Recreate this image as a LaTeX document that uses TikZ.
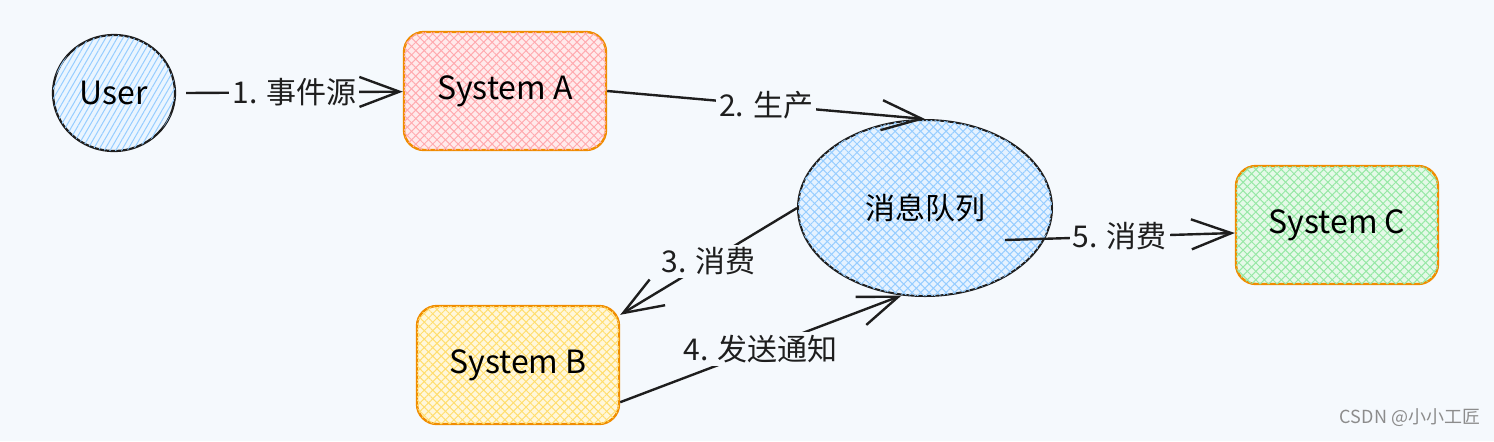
\documentclass[tikz,border=0pt]{standalone}
\usepackage{fontspec}
\setmainfont{Noto Sans CJK SC}
\usetikzlibrary{arrows.meta,patterns.meta,shapes.geometric}
\definecolor{dBg}{RGB}{245,249,253}
\definecolor{dInk}{RGB}{30,30,30}
\definecolor{dOrange}{RGB}{240,140,0}
\definecolor{hBlue}{RGB}{150,205,255}
\definecolor{hPink}{RGB}{255,170,175}
\definecolor{hYellow}{RGB}{255,222,110}
\definecolor{hGreen}{RGB}{150,232,165}
\tikzset{
  xhatch/.style={preaction={fill=#1!25},
    postaction={pattern={Lines[angle=45,distance=3pt,line width=0.5pt]}, pattern color=#1},
    postaction={pattern={Lines[angle=-45,distance=3pt,line width=0.5pt]}, pattern color=#1}},
  shatch/.style={preaction={fill=#1!20},
    postaction={pattern={Lines[angle=60,distance=2.5pt,line width=0.5pt]}, pattern color=#1}},
  sys/.style={rectangle, rounded corners=10pt, draw=dOrange, line width=1.2pt,
              minimum width=101pt, minimum height=59pt, font=\fontsize{16}{18}\selectfont},
  actor/.style={ellipse, draw=dInk, line width=1.1pt, minimum width=61pt,
                minimum height=58pt, font=\fontsize{16}{18}\selectfont},
  queue/.style={ellipse, draw=dInk, line width=1pt, minimum width=127pt,
                minimum height=88pt, font=\fontsize{15}{18}\selectfont},
  flow/.style={-{Straight Barb[length=20pt,width=15pt]}, draw=dInk, line width=1.2pt},
  lbl/.style={fill=dBg, inner sep=1.5pt, font=\fontsize{15}{18}\selectfont, text=dInk},
}

\begin{document}
\begin{tikzpicture}[x=0.5pt, y=-0.5pt]
  \fill[dBg] (0,0) rectangle (1494,441);
  \useasboundingbox (0,0) rectangle (1494,441);

  \node[actor, shatch=hBlue] (user) at (114,93) {User};
  \node[sys, xhatch=hPink] (sysA) at (505,91) {System A};
  \node[queue, xhatch=hBlue] (mq) at (925,208) {消息队列};
  \node[sys, xhatch=hYellow] (sysB) at (518,365) {System B};
  \node[sys, xhatch=hGreen] (sysC) at (1337,225) {System C};

  % connectors with step labels
  \draw[flow] ([xshift=5pt]user.east) -- node[lbl]{1. 事件源} (sysA);
  \draw[flow] (sysA.east) -- node[lbl]{2. 生产} (mq.north);
  \draw[flow] (mq.west) -- node[lbl]{3. 消费} ([yshift=-5pt]sysB.north east);
  \draw[flow] (sysB.-20) -- node[lbl]{4. 发送通知} (mq.-105);
  \draw[flow] ([xshift=40pt,yshift=-16pt]mq.center) -- node[lbl]{5. 消费}
        ([yshift=-4pt]sysC.west);

  \node[text=black!45, font=\fontsize{9}{10}\selectfont] (wm) at (1410,418) {CSDN @小小工匠};
\end{tikzpicture}
\end{document}
